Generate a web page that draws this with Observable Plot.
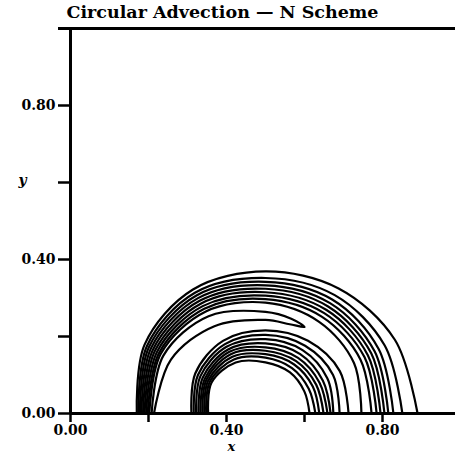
<!DOCTYPE html>
<html><head><meta charset="utf-8">
<script src="https://cdn.jsdelivr.net/npm/d3@7"></script>
<script src="https://cdn.jsdelivr.net/npm/@observablehq/plot@0.6"></script>
<style>body{margin:0;background:#fff}</style>
</head><body><div id="chart"></div>
<script>
const title = "Circular Advection — N Scheme";
const xLabel = "x";
const yLabel = "y";
const xTicks = [0, 0.2, 0.4, 0.6, 0.8];
const yTicks = [0, 0.2, 0.4, 0.6, 0.8];
const tickLabels = ["0.00", "", "0.40", "", "0.80"];

// contour geometry: centre of the rotation and
// radius of each contour line at a set of polar angles (degrees)
const center = [0.5, 0];
const angles = [180, 150, 120, 90, 60, 30, 0];

// outer band (outermost first)
const outerRadii = [
  [0.330, 0.358, 0.372, 0.369, 0.375, 0.383, 0.390],
  [0.326, 0.351, 0.362, 0.352, 0.355, 0.353, 0.351],
  [0.322, 0.345, 0.354, 0.342, 0.342, 0.335, 0.328],
  [0.318, 0.339, 0.346, 0.333, 0.331, 0.323, 0.315],
  [0.314, 0.333, 0.338, 0.324, 0.321, 0.313, 0.305],
  [0.310, 0.327, 0.330, 0.315, 0.311, 0.303, 0.295],
  [0.306, 0.321, 0.322, 0.306, 0.301, 0.293, 0.285],
  [0.302, 0.315, 0.314, 0.297, 0.290, 0.281, 0.272],
  [0.298, 0.310, 0.306, 0.288, 0.275, 0.262, 0.246]
];

// inner band (outermost first)
const innerRadii = [
  [0.190, 0.208, 0.218, 0.216, 0.218, 0.220, 0.213],
  [0.184, 0.200, 0.208, 0.204, 0.203, 0.200, 0.190],
  [0.178, 0.193, 0.200, 0.193, 0.190, 0.183, 0.174],
  [0.172, 0.186, 0.192, 0.182, 0.178, 0.170, 0.167],
  [0.167, 0.180, 0.185, 0.172, 0.167, 0.160, 0.159],
  [0.162, 0.175, 0.178, 0.163, 0.157, 0.150, 0.149],
  [0.157, 0.170, 0.170, 0.154, 0.147, 0.140, 0.138],
  [0.152, 0.165, 0.162, 0.145, 0.136, 0.128, 0.128],
  [0.147, 0.160, 0.153, 0.133, 0.124, 0.115, 0.113]
];

// the tongue-shaped contour: out over the top and back
const tongueAngles = [180, 150, 120, 90, 75, 66, 75, 90, 120, 150, 180];
const tongueRadii  = [0.292, 0.302, 0.292, 0.264, 0.255, 0.246, 0.240, 0.243, 0.262, 0.280, 0.286];

const rows = [];
function addContour(id, angs, radii) {
  angs.forEach((a, i) => {
    const t = a * Math.PI / 180;
    rows.push({id, x: center[0] + radii[i] * Math.cos(t), y: center[1] + radii[i] * Math.sin(t)});
  });
}
outerRadii.forEach((r, k) => addContour("o" + k, angles, r));
innerRadii.forEach((r, k) => addContour("i" + k, angles, r));
addContour("tongue", tongueAngles, tongueRadii);

const serif = "'DejaVu Serif', 'Liberation Serif', serif";

const chart = Plot.plot({
  width: 455,
  height: 455,
  marginTop: 28,
  marginLeft: 70,
  marginRight: 0,
  marginBottom: 42,
  x: {domain: [0, 385 / 390]},
  y: {domain: [0, 1]},
  style: {fontFamily: serif, background: "#fff", color: "#000"},
  marks: [
    Plot.line(rows, {x: "x", y: "y", z: "id", curve: "catmull-rom", stroke: "#000", strokeWidth: 2.2}),
    Plot.ruleX([0], {stroke: "#000", strokeWidth: 3}),
    Plot.ruleY([0], {stroke: "#000", strokeWidth: 3}),
    Plot.ruleY([1], {stroke: "#000", strokeWidth: 3, insetLeft: -12}),
    Plot.axisX(xTicks, {tickFormat: (d, i) => tickLabels[i], tickSize: 9, tickPadding: 3, strokeWidth: 2.5,
      fontSize: 14, fontWeight: "bold", label: null}),
    Plot.axisY(yTicks, {tickFormat: (d, i) => tickLabels[i], tickSize: 12, tickPadding: 3, strokeWidth: 2.5,
      fontSize: 14, fontWeight: "bold", label: null}),
    Plot.text([xLabel], {frameAnchor: "bottom-left", dx: 157, dy: 33, fontSize: 13, fontWeight: "bold", fontStyle: "italic", lineAnchor: "middle"}),
    Plot.text([yLabel], {frameAnchor: "top-left", dx: -52, dy: 152, fontSize: 14, fontWeight: "bold", fontStyle: "italic", lineAnchor: "middle"}),
    Plot.text([title], {frameAnchor: "top-left", dx: 152, dy: -16, fontSize: 17.5, fontWeight: "bold", lineAnchor: "middle", textAnchor: "middle"})
  ]
});
document.getElementById("chart").appendChild(chart);
</script>
</body></html>
